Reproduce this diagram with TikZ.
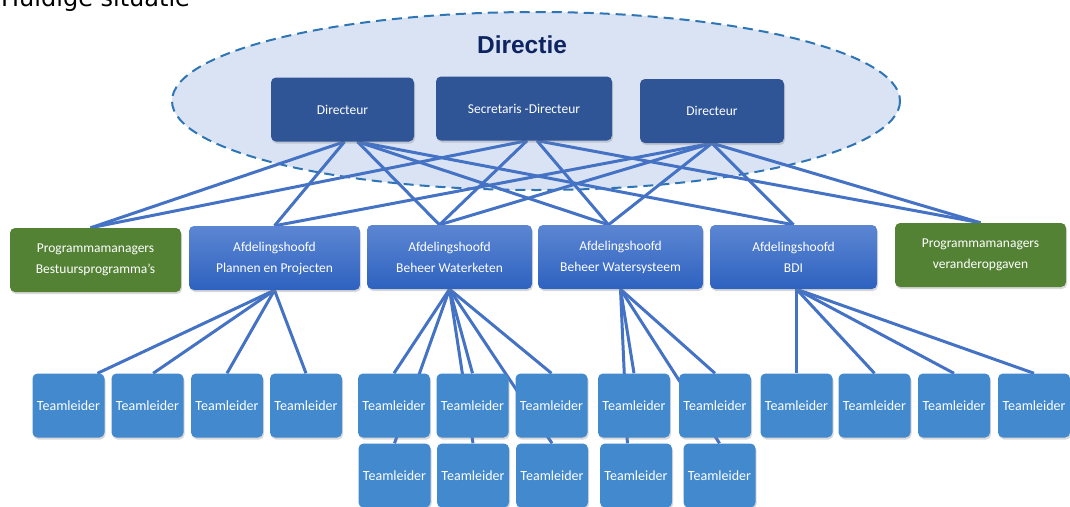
\documentclass[tikz,border=0pt]{standalone}
\usepackage{fontspec}
\setmainfont{Carlito}
\newfontfamily\headfont{Liberation Sans}
\newfontfamily\titlefont{DejaVu Sans}
\usepackage{tikz}
\usetikzlibrary{shadows}
\pgfdeclarelayer{background}
\pgfdeclarelayer{links}
\pgfsetlayers{background,links,main}
\definecolor{dirblue}{RGB}{47,85,151}
\definecolor{ovalfill}{RGB}{218,227,243}
\definecolor{ovalline}{RGB}{46,117,182}
\definecolor{linkblue}{RGB}{68,114,196}
\definecolor{pmgreen}{RGB}{84,130,53}
\definecolor{teamblue}{RGB}{66,137,206}
\definecolor{afdtop}{RGB}{92,134,210}
\definecolor{afdbot}{RGB}{46,98,192}
\definecolor{navy}{RGB}{14,36,96}
\tikzset{%
    box/.style={%
        rounded corners=5pt, text=white, align=center, inner sep=0pt,
        font=\fontsize{13.5}{21}\selectfont,
        drop shadow={shadow xshift=1pt, shadow yshift=-2pt, opacity=0.3}
    },
    dirbox/.style={box, fill=dirblue, minimum width=#1, minimum height=64pt},
    afdbox/.style={box, top color=afdtop, bottom color=afdbot, minimum width=#1, minimum height=64pt},
    pmbox/.style={box, fill=pmgreen, minimum width=171pt, minimum height=64pt},
    teambox/.style={box, fill=teamblue, minimum width=72pt, minimum height=64pt, font=\fontsize{14}{16}\selectfont},
    link/.style={draw=linkblue, line width=3pt}
}

\begin{document}
\begin{tikzpicture}[x=1pt,y=-1pt]
    \useasboundingbox (0,0) rectangle (1070,506);
    \begin{pgfonlayer}{background}
        \draw[ovalline, fill=ovalfill, line width=2pt, dash pattern=on 10pt off 6pt] (536,101) ellipse [x radius=364, y radius=89];
    \end{pgfonlayer}
    \node[anchor=base west, inner sep=0pt, font=\titlefont\fontsize{24}{24}\selectfont] (title) at (1,6) {Huidige situatie};
    \node[anchor=base, inner sep=0pt, text=navy, font=\headfont\bfseries\fontsize{24.5}{25}\selectfont] (directie) at (522,53) {Directie};

    \node[dirbox=143pt] (D1) at (342.5,109.5) {Directeur};
    \node[dirbox=176pt] (D2) at (524,108.5) {Secretaris -Directeur};
    \node[dirbox=144pt] (D3) at (712,111) {Directeur};

    \node[pmbox] (PM1) at (95.5,260) {Programmamanagers\\Bestuursprogramma’s};
    \node[afdbox=171pt] (A1) at (274.5,258) {Afdelingshoofd\\Plannen en Projecten};
    \node[afdbox=165pt] (A2) at (449.5,257) {Afdelingshoofd\\Beheer Waterketen};
    \node[afdbox=165pt] (A3) at (620.5,257) {Afdelingshoofd\\Beheer Watersysteem};
    \node[afdbox=167pt] (A4) at (793.5,257) {Afdelingshoofd\\BDI};
    \node[pmbox] (PM2) at (980.5,255) {Programmamanagers\\veranderopgaven};

    \foreach \name/\x in {T1/68.5, T2/147.5, T3/227, T4/306, T5/394, T6/472.5, T7/551.5,
                          T8/634, T9/715, T10/796.5, T11/874.5, T12/954, T13/1034}
        \node[teambox] (\name) at (\x,405.5) {Teamleider};
    \foreach \name/\x in {U1/394.5, U2/473, U3/552, U4/636, U5/719.5}
        \node[teambox] (\name) at (\x,475.5) {Teamleider};

    \coordinate (D1l) at ([xshift=2pt]D1.south);
    \coordinate (D1r) at ([xshift=15pt]D1.south);
    \coordinate (D2l) at ([xshift=3pt]D2.south);
    \coordinate (D2r) at ([xshift=13pt]D2.south);
    \coordinate (PM1in) at ([xshift=-5pt]PM1.north);
    \coordinate (A2in) at ([xshift=-10pt]A2.north);
    \coordinate (A3in) at ([xshift=-12pt]A3.north);
    \coordinate (A4out) at ([xshift=3pt]A4.south);

    \begin{pgfonlayer}{links}
        \foreach \a/\b in {D1l/PM1in, D1l/A1.north, D1r/A2in, D1r/A3in, D1r/A4.north,
                           D2l/PM1in, D2l/A2in, D2r/A3in, D2r/PM2.north,
                           D3.south/A1.north, D3.south/A2in, D3.south/A3in, D3.south/A4.north, D3.south/PM2.north}
            \draw[link] (\a) -- (\b);
        \foreach \b in {T1.48, T2.80, T3.north, T4.north}
            \draw[link] (A1.south) -- (\b);
        \foreach \b in {T5.north, T6.north, T7.north, U1.north, U2.north, U3.north}
            \draw[link] (A2.south) -- (\b);
        \foreach \b in {T8.north, T9.north, U4.105, U5.north}
            \draw[link] (A3.south) -- (\b);
        \foreach \b in {T10.north, T11.north, T12.north, T13.north}
            \draw[link] (A4out) -- (\b);
    \end{pgfonlayer}
\end{tikzpicture}
\end{document}
